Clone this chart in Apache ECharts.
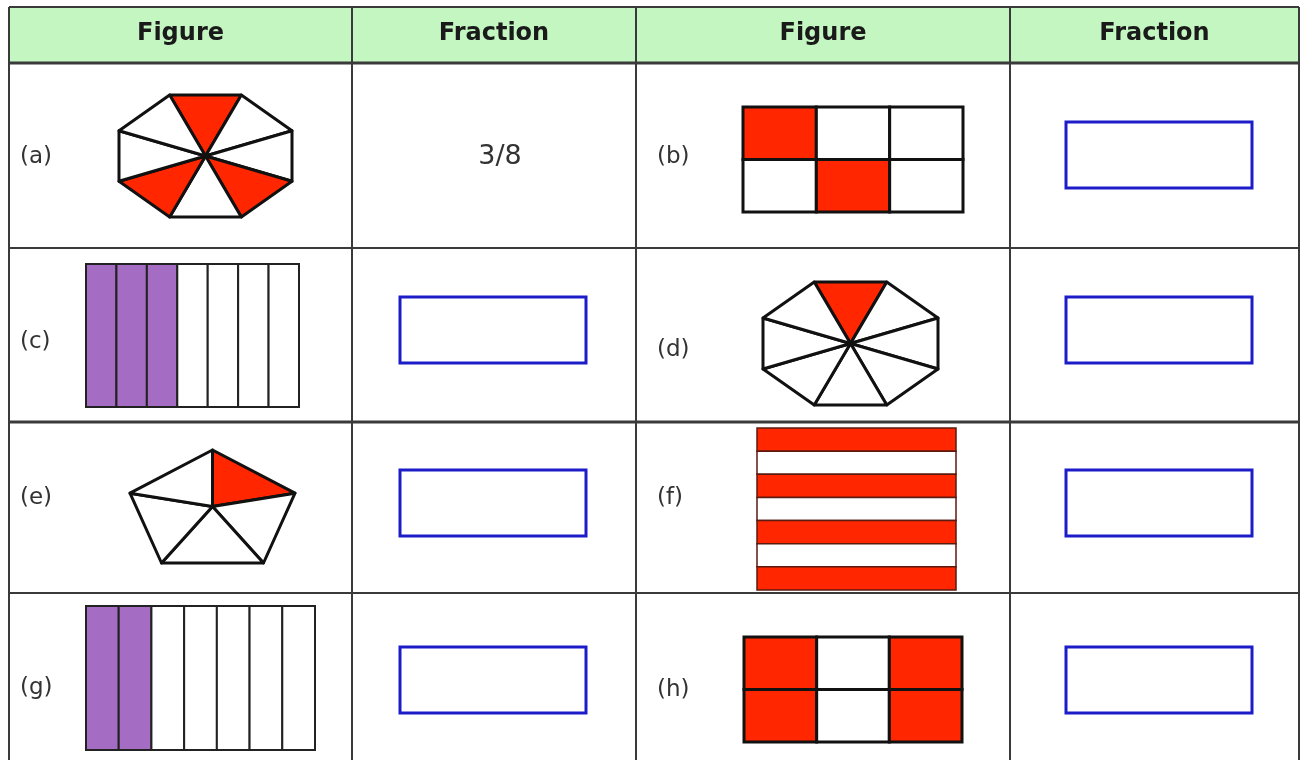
<!DOCTYPE html>
<html>
<head lang="en">
    <meta charset="UTF-8"/>
    <title>Fraction worksheet</title>
    <script src="https://cdn.jsdelivr.net/npm/echarts@6/dist/echarts.min.js"></script>
    <style>
        html, body {margin: 0; padding: 0; background: #fff;}
        #main {width: 1300px; height: 760px;}
    </style>
</head>
<body>
<div id="main"></div>
<script>
    // table content
    var headers = ['Figure', 'Fraction', 'Figure', 'Fraction'];
    var labels = ['(a)', '(b)', '(c)', '(d)', '(e)', '(f)', '(g)', '(h)'];
    var answers = ['3/8', '', '', '', '', '', '', ''];
    // each figure: kind, number of equal parts, which parts are shaded
    var kinds = ['octagon', 'grid', 'strips', 'octagon', 'pentagon', 'stripes', 'strips', 'grid'];
    var parts = [8, 6, 7, 8, 5, 7, 7, 6];
    var shaded = [[0, 3, 5], [0, 4], [0, 1, 2], [0], [0], [0, 2, 4, 6], [0, 1], [0, 2, 3, 5]];

    // layout in page pixels
    var colX = [9, 352, 636, 1010, 1299];
    var rowY = [7, 63, 248, 422, 593, 780];
    var thickRows = [63, 422];
    var figBox = [
        [119, 95, 292, 217], [743, 107, 963, 212],
        [86, 264, 299, 407], [763, 282, 938, 405],
        [130, 450, 295, 563], [757, 428, 956, 590],
        [86, 606, 315, 750], [744, 637, 962, 742]
    ];
    var labelX = [20, 657];
    var labelY = [157, 157, 342, 350, 498, 498, 688, 690];
    var answerX = [493, 1159];
    var answerY = [155, 330, 503, 680];
    var answerW = 186, answerH = 66;

    var RED = '#ff2600', PURPLE = '#a46cc2', GREEN = '#c3f6c0', LINE = '#3a3a3a', BLUE = '#1c1cc8';
    var FONT = "'DejaVu Sans', sans-serif";

    var myChart = echarts.init(document.getElementById('main'));

    function seq(n) {
        var a = [];
        for (var i = 0; i < n; i++) a.push([i]);
        return a;
    }

    function renderCell(params, api) {
        var c = api.value(0), r = api.value(1);
        var p0 = api.coord([colX[c], rowY[r]]);
        var p1 = api.coord([colX[c + 1], rowY[r + 1]]);
        var children = [{
            type: 'rect',
            shape: {x: p0[0], y: p0[1], width: p1[0] - p0[0], height: p1[1] - p0[1]},
            style: {fill: r === 0 ? GREEN : '#fff'}
        }];
        if (r === 0) {
            children.push({
                type: 'text',
                style: {
                    text: headers[c], x: (p0[0] + p1[0]) / 2, y: (p0[1] + p1[1]) / 2 - 1,
                    align: 'center', verticalAlign: 'middle',
                    font: 'bold 24px ' + FONT, fill: '#1a1a1a'
                }
            });
        }
        return {type: 'group', children: children};
    }

    function renderHLine(params, api) {
        var y = rowY[api.value(0)];
        var a = api.coord([colX[0], y]), b = api.coord([colX[colX.length - 1], y]);
        return {
            type: 'line',
            shape: {x1: a[0], y1: a[1], x2: b[0], y2: b[1]},
            style: {stroke: LINE, lineWidth: thickRows.indexOf(y) >= 0 ? 3 : 2}
        };
    }

    function renderVLine(params, api) {
        var x = colX[api.value(0)];
        var a = api.coord([x, rowY[0]]), b = api.coord([x, rowY[rowY.length - 1]]);
        return {
            type: 'line',
            shape: {x1: a[0], y1: a[1], x2: b[0], y2: b[1]},
            style: {stroke: LINE, lineWidth: 2}
        };
    }

    function renderFigure(params, api) {
        var i = api.value(0);
        var b = figBox[i];
        var p0 = api.coord([b[0], b[1]]), p1 = api.coord([b[2], b[3]]);
        var w = p1[0] - p0[0], h = p1[1] - p0[1];
        var n = parts[i], kind = kinds[i];
        var on = function (k) { return shaded[i].indexOf(k) >= 0; };
        var children = [];
        if (kind === 'octagon' || kind === 'pentagon') {
            var start = kind === 'octagon' ? -90 - 180 / n : -90;
            var unit = [], k;
            for (k = 0; k < n; k++) {
                var ang = (start + 360 * k / n) * Math.PI / 180;
                unit.push([Math.cos(ang), Math.sin(ang)]);
            }
            var xs = unit.map(function (u) { return u[0]; }), ys = unit.map(function (u) { return u[1]; });
            var minX = Math.min.apply(null, xs), maxX = Math.max.apply(null, xs);
            var minY = Math.min.apply(null, ys), maxY = Math.max.apply(null, ys);
            var v = unit.map(function (u) {
                return [p0[0] + (u[0] - minX) / (maxX - minX) * w, p0[1] + (u[1] - minY) / (maxY - minY) * h];
            });
            var hub = [p0[0] + w / 2, p0[1] + h / 2];
            for (k = 0; k < n; k++) {
                children.push({
                    type: 'polygon',
                    shape: {points: [hub, v[k], v[(k + 1) % n]]},
                    style: {fill: on(k) ? RED : '#fff', stroke: '#111', lineWidth: 3, lineJoin: 'round'}
                });
            }
        } else if (kind === 'grid') {
            var cols = 3, rows = n / cols;
            for (var k2 = 0; k2 < n; k2++) {
                var r = Math.floor(k2 / cols), c = k2 % cols;
                children.push({
                    type: 'rect',
                    shape: {x: p0[0] + c * w / cols, y: p0[1] + r * h / rows, width: w / cols, height: h / rows},
                    style: {fill: on(k2) ? RED : '#fff', stroke: '#111', lineWidth: 3}
                });
            }
        } else if (kind === 'strips') {
            for (var k3 = 0; k3 < n; k3++) {
                children.push({
                    type: 'rect',
                    shape: {x: p0[0] + k3 * w / n, y: p0[1], width: w / n, height: h},
                    style: {fill: on(k3) ? PURPLE : '#fff', stroke: '#222', lineWidth: 2}
                });
            }
        } else {
            for (var k4 = 0; k4 < n; k4++) {
                children.push({
                    type: 'rect',
                    shape: {x: p0[0], y: p0[1] + k4 * h / n, width: w, height: h / n},
                    style: {fill: on(k4) ? RED : '#fff', stroke: '#5a1a10', lineWidth: 1.5}
                });
            }
        }
        children.push({
            type: 'text',
            style: {
                text: labels[i], x: api.coord([labelX[i % 2], 0])[0], y: api.coord([0, labelY[i]])[1],
                align: 'left', verticalAlign: 'middle', font: '23px ' + FONT, fill: '#333'
            }
        });
        return {type: 'group', children: children};
    }

    function renderAnswer(params, api) {
        var i = api.value(0);
        var c = api.coord([answerX[i % 2], answerY[Math.floor(i / 2)]]);
        if (answers[i]) {
            return {
                type: 'text',
                style: {
                    text: answers[i], x: c[0] + 7, y: c[1] + 2, align: 'center', verticalAlign: 'middle',
                    font: '27px ' + FONT, fill: '#333'
                }
            };
        }
        return {
            type: 'rect',
            shape: {x: c[0] - answerW / 2, y: c[1] - answerH / 2, width: answerW, height: answerH},
            style: {fill: '#fff', stroke: BLUE, lineWidth: 3}
        };
    }

    var cells = [];
    for (var r = 0; r < rowY.length - 1; r++) {
        for (var c = 0; c < colX.length - 1; c++) cells.push([c, r]);
    }

    var option = {
        animation: false,
        backgroundColor: '#fff',
        grid: {left: 0, right: 0, top: 0, bottom: 0},
        xAxis: {type: 'value', min: 0, max: 1300, show: false},
        yAxis: {type: 'value', min: 0, max: 760, inverse: true, show: false},
        series: [
            {type: 'custom', name: 'cells', renderItem: renderCell, data: cells, clip: false, silent: true},
            {type: 'custom', name: 'rows', renderItem: renderHLine, data: seq(rowY.length), clip: false, silent: true},
            {type: 'custom', name: 'cols', renderItem: renderVLine, data: seq(colX.length), clip: false, silent: true},
            {type: 'custom', name: 'figures', renderItem: renderFigure, data: seq(kinds.length), clip: false, silent: true},
            {type: 'custom', name: 'answers', renderItem: renderAnswer, data: seq(answers.length), clip: false, silent: true}
        ]
    };
    myChart.setOption(option);
</script>
</body>
</html>
